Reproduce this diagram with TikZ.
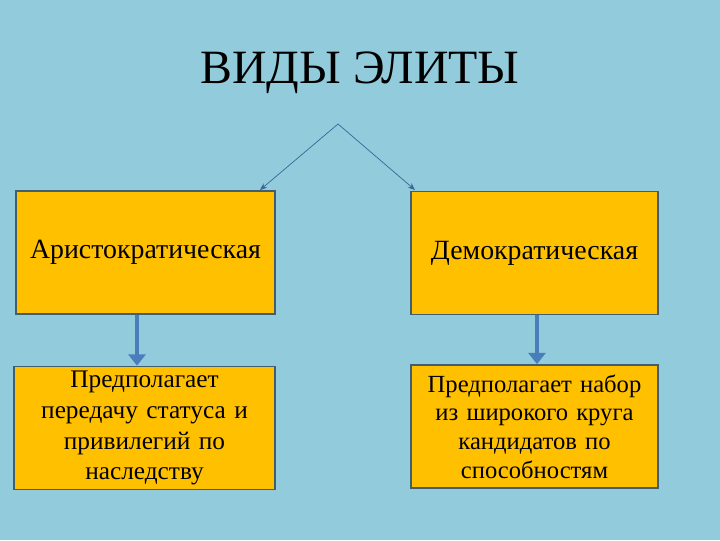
\documentclass[tikz,border=0pt]{standalone}
\usepackage{fontspec}
\setmainfont{Liberation Serif}
\usetikzlibrary{arrows.meta}
\definecolor{bgblue}{RGB}{146,204,220}
\definecolor{boxfill}{RGB}{255,192,0}
\definecolor{boxline}{RGB}{65,95,110}
\definecolor{arrowblue}{RGB}{74,126,187}
\tikzset{
  >=latex,
  {kind box/.style} ={rectangle, draw=boxline, line width=1pt, fill=boxfill,
                minimum width=#1*0.025cm, minimum height=3.08cm, inner sep=0,
                font=\fontsize{19.8}{23}\selectfont},
  {note box/.style} ={kind box=#1, align=center, text width=#1*0.025cm,
                font=\fontsize{18}{22}\selectfont},
  {thin arrow/.style} ={draw=arrowblue!80!black, line width=0.5pt, -{Stealth[length=5pt,width=4pt]}},
  {fat arrow/.style} ={draw=arrowblue, line width=3.5pt, -{Triangle[length=8pt,width=12pt]}},
}
\begin{document}
\begin{tikzpicture}[x=0.025cm,y=-0.025cm]
\fill[bgblue] (0,0) rectangle (720,540);
\node (title) at (360,73) {\fontsize{34}{40}\selectfont ВИДЫ ЭЛИТЫ};
\coordinate (top) at (338,124);
\node[kind box=259] (aristo) at (145.5,252.5) {Аристократическая};
\node[kind box=247] (demo) at (534.5,253) {Демократическая};
\node[note box=261] (aristonote) at (144.5,428)
  {Предполагает\\передачу статуса и\\привилегий по\\наследству};
\node[note box=247, font=\fontsize{17.5}{20.3}\selectfont] (demonote) at (534.5,426.5)
  {Предполагает набор\\из широкого круга\\кандидатов по\\способностям};
\draw[thin arrow] (top) -- (260,190);
\draw[thin arrow] (top) -- (415,190);
\draw[fat arrow] (aristo.south -| 137,0) -- (aristonote.north -| 137,0);
\draw[fat arrow] (demo.south -| 537,0) -- (demonote.north -| 537,0);
\end{tikzpicture}
\end{document}
